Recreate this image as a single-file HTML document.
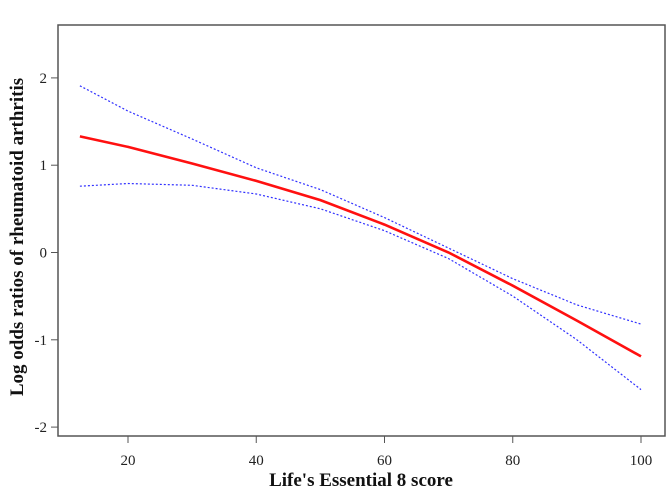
<!DOCTYPE html>
<html><head><meta charset="utf-8"><style>
body{margin:0;background:#fff;}
svg{display:block;font-family:"Liberation Serif",serif;}
</style></head><body>
<svg id="chart" width="669" height="488"></svg>
<script>
const xVals=[12.5,20,30,40,50,60,70,80,90,100];
const fitVals=[1.33,1.21,1.02,0.82,0.6,0.32,0.0,-0.38,-0.78,-1.19];
const upperVals=[1.91,1.62,1.3,0.97,0.72,0.40,0.05,-0.3,-0.6,-0.82];
const lowerVals=[0.76,0.79,0.77,0.67,0.5,0.25,-0.07,-0.5,-1.0,-1.57];
const xTicks=[20,40,60,80,100];
const yTicks=[-2,-1,0,1,2];
const NS="http://www.w3.org/2000/svg";
const svg=document.getElementById('chart');
const sx=v=>128+(v-20)*6.4125;
const sy=v=>252.5-v*87.3;
function mk(t,a){const e=document.createElementNS(NS,t);for(const k in a)e.setAttribute(k,a[k]);svg.appendChild(e);return e;}
const box=mk('rect',{x:58,y:25,width:607,height:411,fill:'none',stroke:'#555','stroke-width':1.5});


xTicks.forEach(t=>{
 const l=mk('line',{x1:sx(t),x2:sx(t),y1:436,y2:443,stroke:'#555'});
 
 
 const tx=mk('text',{x:sx(t),y:465,'text-anchor':'middle','font-size':15,fill:'#222'});
 tx.textContent=t;
 
 
});
yTicks.forEach(t=>{
 const l=mk('line',{x1:51,x2:58,y1:sy(t),y2:sy(t),stroke:'#555'});
 
 
 const tx=mk('text',{x:47,y:sy(t)+5,'text-anchor':'end','font-size':15,fill:'#222'});
 tx.textContent=t;
 
 
});
function line(vals,color,w,dash,name){
 const d=vals.map((v,i)=>(i?'L':'M')+sx(xVals[i]).toFixed(1)+','+sy(v).toFixed(1)).join('');
 const p=mk('path',{d:d,fill:'none',stroke:color,'stroke-width':w});
 if(dash)p.setAttribute('stroke-dasharray',dash);
 
 
}
line(upperVals,'#3030ff',1.2,'2,2','upper-ci-line');
line(lowerVals,'#3030ff',1.2,'2,2','lower-ci-line');
line(fitVals,'#ff1010',2.6,null,'fit-line');
const xt=mk('text',{x:361,y:486,'text-anchor':'middle','font-size':19,'font-weight':'bold',fill:'#111'});
xt.textContent="Life's Essential 8 score";


const yt=mk('text',{x:0,y:0,'text-anchor':'middle','font-size':19,'font-weight':'bold',fill:'#111',transform:'translate(23,237) rotate(-90)'});
yt.textContent="Log odds ratios of rheumatoid arthritis";


</script>
</body></html>
